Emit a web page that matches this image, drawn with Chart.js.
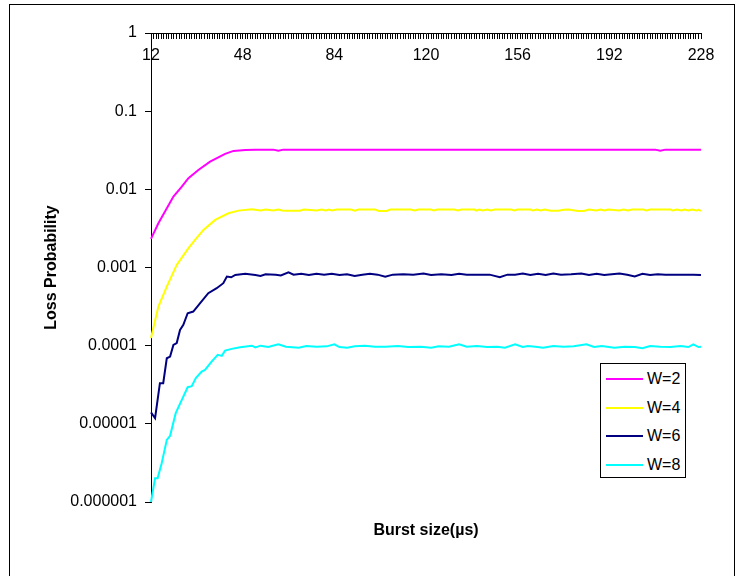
<!DOCTYPE html>
<html>
<head>
<meta charset="utf-8">
<script src="https://cdn.jsdelivr.net/npm/chart.js"></script>
<style>
  body { margin: 0; background: #fff; overflow: hidden; font-family: "Liberation Sans", Arial, sans-serif; }
  #frame { position: absolute; left: 9px; top: 4px; width: 724px; height: 600px; border: 1px solid #000; }
  #legend { position: absolute; left: 600px; top: 363px; width: 84px; height: 113px; border: 1px solid #000; background: #fff; }
  .item { position: absolute; left: 5px; height: 20px; font-size: 16px; line-height: 20px; color: #000; }
  .item span.swatch { position: absolute; left: 0; top: 9px; width: 37px; height: 2px; }
  .item span.label { position: absolute; left: 41px; top: 0; white-space: nowrap; }
</style>
</head>
<body>
<div id="frame"><canvas id="lossChart" width="724" height="600"></canvas></div>
<div id="legend"></div>
<script>
// tick labels
const xTickLabels = ['12', '48', '84', '120', '156', '192', '228'];
const yTickValues = [1, 0.1, 0.01, 0.001, 0.0001, 0.00001, 0.000001];
const yTickLabels = ['1', '0.1', '0.01', '0.001', '0.0001', '0.00001', '0.000001'];

// W=2
const w2X = [12, 14.9, 17.5, 20.8, 24.1, 26.7, 30.6, 35.2, 41.1, 44.4, 49, 53, 60, 62, 64, 210, 212, 214, 228];
const w2Y = [0.00232, 0.00368, 0.00519, 0.00807, 0.0108, 0.0139, 0.0177, 0.0226, 0.0284, 0.031, 0.0318, 0.0322,
  0.0322, 0.0311, 0.0322, 0.0322, 0.0311, 0.0322, 0.0322];

// W=4
const w4X = [12, 14.9, 18.2, 22.1, 26.7, 29.3, 32.6, 37.2, 42.4, 46.4, 51.6,
  55, 57, 60, 62, 63.5, 65, 70.5, 72, 77, 79, 80.5, 82, 83, 85, 90.5, 92, 93.5, 100, 101.5, 104.5, 106,
  114, 115.5, 117, 122, 123, 124.5, 131, 132.5, 134, 139, 139.6, 141, 142.2, 144, 145.5, 147, 153.5, 154.6, 156,
  161, 162, 163.5, 165, 166.5, 169, 172, 174, 176, 179.6, 182, 184, 186.8, 188.5, 190, 191.5, 196, 197.5,
  199.3, 201, 205.5, 206.5, 208, 216, 217, 218.5, 220.3, 221.5, 223, 224.5, 226.2, 227, 228];
const w4Y = [0.000125, 0.000316, 0.00057, 0.00108, 0.00177, 0.00225, 0.00303, 0.00406, 0.00494, 0.00534, 0.00557,
  0.00535, 0.00552, 0.00535, 0.00552, 0.00535, 0.00532, 0.00532, 0.00552, 0.00535, 0.00552, 0.00535, 0.00552, 0.00535, 0.00552, 0.00552, 0.00532, 0.00552, 0.00552, 0.0053, 0.0053, 0.00552,
  0.00552, 0.00535, 0.00552, 0.00552, 0.00535, 0.00552, 0.00552, 0.00535, 0.00552, 0.00552, 0.00535, 0.00552, 0.00535, 0.00552, 0.00535, 0.00552, 0.00552, 0.00535, 0.00552,
  0.00552, 0.00535, 0.00552, 0.00535, 0.00552, 0.00532, 0.00532, 0.00548, 0.00552, 0.0053, 0.0053, 0.00552, 0.00535, 0.00552, 0.00535, 0.00552, 0.00535, 0.00552,
  0.00535, 0.00552, 0.00552, 0.00535, 0.00552, 0.00552, 0.00535, 0.00552, 0.00535, 0.00552, 0.00535, 0.00552, 0.00535, 0.00548, 0.0053];

// W=6
const w6X = [12, 13.6, 15.5, 16.8, 18.2, 19.5, 20.8, 22.1, 23.4, 24.7, 26.4, 28.6, 31.3, 34.5, 37.8, 40.4, 41.8, 43.5, 45.1,
  49, 53, 55, 57, 61, 63, 66, 68, 71, 74, 77, 80, 83, 86, 89, 92, 95, 98, 101, 104, 107, 111, 115, 119, 122,
  126, 130, 133, 136, 140, 145, 149, 152, 155, 158, 161, 164, 167, 170, 173, 177, 181, 184, 187, 190, 193,
  196, 199, 202, 205, 208, 211, 214, 218, 222, 225, 228];
const w6Y = [0.000014, 0.0000118, 0.0000331, 0.0000331, 0.000069, 0.0000726, 0.000102, 0.000108, 0.000159, 0.000185, 0.00026, 0.000273, 0.000349, 0.000469, 0.000543, 0.00063, 0.000765, 0.00075, 0.000804,
  0.00083, 0.0008, 0.00078, 0.00082, 0.00081, 0.00079, 0.00087, 0.00081, 0.00083, 0.0008, 0.00083, 0.00081, 0.00083, 0.0008, 0.00082, 0.00078, 0.00081, 0.00083, 0.00081, 0.00076, 0.00081, 0.00082, 0.00081, 0.00084, 0.0008,
  0.00082, 0.0008, 0.00083, 0.00081, 0.00081, 0.00081, 0.00075, 0.00081, 0.00081, 0.00084, 0.0008, 0.00083, 0.0008, 0.00084, 0.00081, 0.00082, 0.00084, 0.0008, 0.00083, 0.0008, 0.00082,
  0.00084, 0.00081, 0.00077, 0.00083, 0.0008, 0.00082, 0.00081, 0.00081, 0.00081, 0.00081, 0.0008];

// W=8
const w8X = [12, 13.6, 14.6, 16.2, 18.2, 19.5, 21.7, 24.1, 26.4, 28, 29.6, 31.9, 33.2, 35.8, 38.2, 39.8, 41.1, 43.7, 47, 51.6, 53, 55,
  58, 62, 65, 70, 73, 77, 81, 84, 86, 89, 92, 96, 100, 104, 109, 113, 118, 122, 125, 129, 133, 136, 140,
  144, 148, 151, 155, 158, 160, 163, 166, 170, 174, 178, 183, 186, 189, 194, 198, 202, 205, 208, 212, 216,
  220, 223, 225, 227, 228];
const w8Y = [0.000001, 0.00000202, 0.00000202, 0.00000314, 0.00000624, 0.00000703, 0.0000137, 0.0000203, 0.0000294, 0.0000303, 0.0000384, 0.0000467, 0.000049, 0.0000626, 0.0000763, 0.000074, 0.0000866, 0.000091, 0.0000957, 0.0001, 0.000095, 0.0001,
  0.000096, 0.000104, 0.000097, 0.000094, 0.000099, 0.000097, 0.000098, 0.000104, 0.000096, 0.000094, 0.000098, 0.0001, 0.000097, 0.000097, 0.000099, 0.000096, 0.000097, 0.000094, 0.000098, 0.000097, 0.000104, 0.000097, 0.000099,
  0.000096, 0.000097, 0.000094, 0.000104, 0.000096, 0.000099, 0.000097, 0.000094, 0.000099, 0.000097, 0.000098, 0.000104, 0.000096, 0.000099, 0.000094, 0.000097, 0.000096, 0.000093, 0.000099, 0.000097, 0.000096,
  0.000099, 0.000096, 0.000104, 0.000096, 0.000097];

const seriesNames = ['W=2', 'W=4', 'W=6', 'W=8'];
const seriesColors = ['#FF00FF', '#FFFF00', '#000080', '#00FFFF'];
const seriesX = [w2X, w4X, w6X, w8X];
const seriesY = [w2Y, w4Y, w6Y, w8Y];

const FONT = '"Liberation Sans", Arial, sans-serif';

const datasets = seriesNames.map((name, i) => ({
  label: name,
  data: seriesX[i].map((x, j) => ({ x: x, y: seriesY[i][j] })),
  borderColor: seriesColors[i],
  backgroundColor: seriesColors[i],
  borderWidth: 2,
  pointRadius: 0,
  tension: 0,
  clip: false
}));

const chart = new Chart(document.getElementById('lossChart'), {
  type: 'line',
  data: { datasets: datasets },
  options: {
    responsive: false,
    animation: false,
    events: [],
    layout: { padding: { left: 28, right: 33, top: 28, bottom: 61 } },
    plugins: { legend: { display: false }, tooltip: { enabled: false } },
    scales: {
      // axis sits on the y=1 line, ticks hang down into the plot
      x: {
        type: 'linear',
        position: { y: 1 },
        min: 12,
        max: 228,
        afterFit: s => { s.height = 0; },
        border: { display: true, color: '#000', width: 1 },
        grid: { drawOnChartArea: false, drawTicks: true, tickLength: 5, color: '#000' },
        ticks: {
          stepSize: 1,
          autoSkip: false,
          maxRotation: 0,
          minRotation: 0,
          padding: 8,
          color: '#000',
          font: { family: FONT, size: 16 },
          callback: v => (xTickLabels.indexOf(String(v)) >= 0 ? String(v) : '')
        }
      },
      // carries only the axis title under the plot
      xTitle: {
        type: 'linear',
        axis: 'x',
        position: 'bottom',
        min: 12,
        max: 228,
        afterFit: s => { s.height = 42; },
        border: { display: false },
        grid: { display: false },
        ticks: { display: false },
        title: {
          display: true,
          text: 'Burst size(µs)',
          color: '#000',
          font: { family: FONT, size: 16, weight: 'bold' },
          padding: { top: 19, bottom: 4 }
        }
      },
      y: {
        type: 'logarithmic',
        position: 'left',
        min: 0.000001,
        max: 1,
        afterFit: s => { s.width = 113; },
        afterBuildTicks: s => { s.ticks = yTickValues.map(v => ({ value: v })); },
        border: { display: true, color: '#000', width: 1 },
        grid: { drawOnChartArea: false, drawTicks: true, tickLength: 6, color: '#000' },
        ticks: {
          padding: 8,
          color: '#000',
          font: { family: FONT, size: 16 },
          callback: (v, i) => yTickLabels[i]
        },
        title: {
          display: true,
          text: 'Loss Probability',
          color: '#000',
          font: { family: FONT, size: 16, weight: 'bold' }
        }
      }
    }
  }
});

// legend box on the right, built from the chart's datasets
const legendEl = document.getElementById('legend');
chart.data.datasets.forEach((ds, i) => {
  const item = document.createElement('div');
  item.className = 'item';
  item.style.top = (5 + i * 28.5) + 'px';
  item.innerHTML = '<span class="swatch" style="background:' + ds.borderColor + '"></span><span class="label">' + ds.label + '</span>';
  legendEl.appendChild(item);
});
</script>
</body>
</html>
